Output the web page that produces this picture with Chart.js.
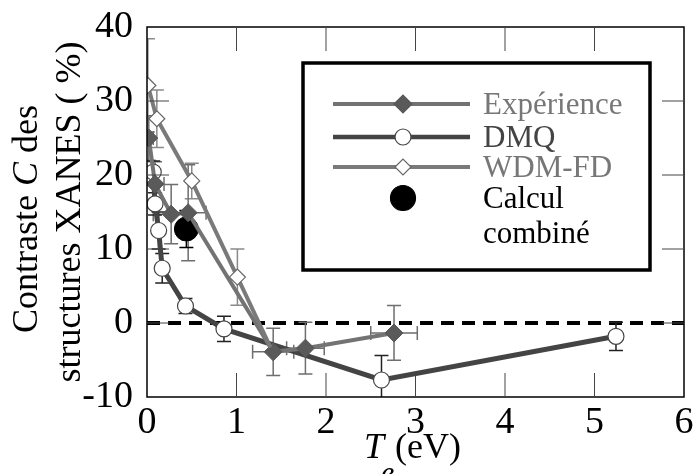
<!DOCTYPE html>
<html>
<head>
<meta charset="utf-8">
<script src="https://cdn.jsdelivr.net/npm/chart.js@4/dist/chart.umd.min.js"></script>
<style>
  html, body { margin: 0; padding: 0; background: #fff; }
</style>
</head>
<body>
<canvas id="chart" width="697" height="474"></canvas>
<script>
// 1. DATOS
const expX    = [0.02, 0.09, 0.27, 0.46, 1.41, 1.77, 2.76];
const expY    = [25.0, 18.8, 14.7, 14.9, -3.9, -3.4, -1.35];
const expYErr = [3.0, 3.0, 4.0, 6.5, 3.2, 3.5, 3.7];
const expXErr = [0.05, 0.10, 0.20, 0.20, 0.23, 0.21, 0.26];

const dmqX    = [0.07, 0.09, 0.13, 0.17, 0.43, 0.86, 2.62, 5.24];
const dmqY    = [20.4, 16.1, 12.5, 7.4, 2.3, -0.8, -7.7, -1.8];
const dmqYErr = [1.5, 1.5, 2.5, 2.0, 1.0, 1.7, 3.3, 1.9];

const wdmX    = [0.01, 0.11, 0.50, 1.01, 1.38];
const wdmY    = [32.1, 27.6, 19.2, 6.2, -3.3];
const wdmYErr = [6.3, 3.9, 2.4, 3.8, 0];

const combX    = [0.44];
const combY    = [12.7];
const combYErr = [2.5];

const xTicks = [0, 1, 2, 3, 4, 5, 6];
const yTicks = [-10, 0, 10, 20, 30, 40];

const legendLabels = ['Expérience', 'DMQ', 'WDM-FD', 'Calcul', 'combiné'];

const SERIF = '"Liberation Serif", "DejaVu Serif", serif';

function toPoints(xs, ys) {
    return xs.map((x, i) => ({ x: x, y: ys[i] }));
}

// 2. DIBUJO AUXILIAR (línea cero, barras de error, marco, leyenda, títulos)
function diamond(ctx, x, y, r, fill, stroke) {
    ctx.beginPath();
    ctx.moveTo(x - r, y); ctx.lineTo(x, y - r); ctx.lineTo(x + r, y); ctx.lineTo(x, y + r);
    ctx.closePath();
    ctx.fillStyle = fill; ctx.fill();
    ctx.lineWidth = 1.2; ctx.strokeStyle = stroke; ctx.stroke();
}
function circle(ctx, x, y, r, fill, stroke) {
    ctx.beginPath();
    ctx.arc(x, y, r, 0, Math.PI * 2);
    ctx.fillStyle = fill; ctx.fill();
    ctx.lineWidth = 1.2; ctx.strokeStyle = stroke; ctx.stroke();
}
function sampleLine(ctx, x0, x1, y, color, width) {
    ctx.lineWidth = width;
    ctx.strokeStyle = color;
    ctx.beginPath(); ctx.moveTo(x0, y); ctx.lineTo(x1, y); ctx.stroke();
}

function errorBars(chart, xs, ys, yErr, xErr, color) {
    const { ctx, scales: { x, y } } = chart;
    ctx.strokeStyle = color;
    ctx.lineWidth = 1.5;
    xs.forEach((v, i) => {
        const px = x.getPixelForValue(v);
        const py = y.getPixelForValue(ys[i]);
        if (yErr[i]) {
            const top = y.getPixelForValue(ys[i] + yErr[i]);
            const bot = y.getPixelForValue(ys[i] - yErr[i]);
            ctx.beginPath();
            ctx.moveTo(px, top); ctx.lineTo(px, bot);
            ctx.moveTo(px - 7, top); ctx.lineTo(px + 7, top);
            ctx.moveTo(px - 7, bot); ctx.lineTo(px + 7, bot);
            ctx.stroke();
        }
        if (xErr && xErr[i]) {
            const l = x.getPixelForValue(v - xErr[i]);
            const r = x.getPixelForValue(v + xErr[i]);
            ctx.beginPath();
            ctx.moveTo(l, py); ctx.lineTo(r, py);
            ctx.moveTo(l, py - 7); ctx.lineTo(l, py + 7);
            ctx.moveTo(r, py - 7); ctx.lineTo(r, py + 7);
            ctx.stroke();
        }
    });
}

const decor = {
    id: 'decor',
    beforeDatasetsDraw(chart) {
        const { ctx, chartArea: a, scales: { y } } = chart;
        ctx.save();
        ctx.beginPath();
        ctx.rect(a.left, a.top, a.right - a.left, a.bottom - a.top);
        ctx.clip();
        // línea de contraste nulo
        const y0 = y.getPixelForValue(0);
        ctx.strokeStyle = '#000';
        ctx.lineWidth = 4;
        ctx.setLineDash([13, 8]);
        ctx.beginPath(); ctx.moveTo(a.left, y0); ctx.lineTo(a.right, y0); ctx.stroke();
        ctx.setLineDash([]);
        // barras de error
        errorBars(chart, wdmX, wdmY, wdmYErr, null, '#8a8a8a');
        errorBars(chart, expX, expY, expYErr, expXErr, '#6e6e6e');
        errorBars(chart, dmqX, dmqY, dmqYErr, null, '#222');
        errorBars(chart, combX, combY, combYErr, null, '#000');
        ctx.restore();
    },
    afterDraw(chart) {
        const { ctx, chartArea: a, scales: { x, y } } = chart;
        ctx.save();
        // marco
        ctx.strokeStyle = '#000';
        ctx.lineWidth = 1.5;
        ctx.strokeRect(a.left, a.top, a.right - a.left, a.bottom - a.top);
        // marcas interiores
        ctx.strokeStyle = '#444';
        ctx.lineWidth = 1;
        ctx.beginPath();
        xTicks.slice(1, -1).forEach(v => {
            const px = x.getPixelForValue(v);
            ctx.moveTo(px, a.bottom); ctx.lineTo(px, a.bottom - 24);
            ctx.moveTo(px, a.top); ctx.lineTo(px, a.top + 24);
        });
        yTicks.slice(1, -1).forEach(v => {
            const py = y.getPixelForValue(v);
            ctx.moveTo(a.left, py); ctx.lineTo(a.left + 22, py);
            ctx.moveTo(a.right, py); ctx.lineTo(a.right - 22, py);
        });
        ctx.stroke();

        // leyenda
        ctx.strokeStyle = '#000';
        ctx.lineWidth = 3.5;
        ctx.strokeRect(303, 63, 347, 207);
        const rows = [104, 137, 167, 198];
        const lx0 = 333, lx1 = 470, mx = 403, tx = 483;
        sampleLine(ctx, lx0, lx1, rows[0], '#737373', 4);
        diamond(ctx, mx, rows[0], 9, '#5a5a5a', '#5a5a5a');
        sampleLine(ctx, lx0, lx1, rows[1], '#444', 4.5);
        circle(ctx, mx, rows[1], 8, '#fff', '#444');
        sampleLine(ctx, lx0, lx1, rows[2], '#7a7a7a', 4);
        diamond(ctx, mx, rows[2], 8, '#fff', '#666');
        circle(ctx, mx, rows[3], 12.5, '#000', '#000');

        ctx.font = '31px ' + SERIF;
        ctx.textAlign = 'left';
        ctx.textBaseline = 'alphabetic';
        ctx.fillStyle = '#777'; ctx.fillText(legendLabels[0], tx, 114);
        ctx.fillStyle = '#444'; ctx.fillText(legendLabels[1], tx, 147);
        ctx.fillStyle = '#777'; ctx.fillText(legendLabels[2], tx, 177);
        ctx.fillStyle = '#000'; ctx.fillText(legendLabels[3], tx, 208);
        ctx.fillText(legendLabels[4], tx, 243);

        // título eje Y (dos líneas, C en cursiva)
        ctx.fillStyle = '#000';
        ctx.save();
        ctx.translate(37, 219);
        ctx.rotate(-Math.PI / 2);
        const up = '36px ' + SERIF, it = 'italic 36px ' + SERIF;
        const parts = [['Contraste ', up], ['C', it], [' des', up]];
        let w = 0;
        parts.forEach(p => { ctx.font = p[1]; w += ctx.measureText(p[0]).width; });
        let cx = -w / 2;
        parts.forEach(p => { ctx.font = p[1]; ctx.fillText(p[0], cx, 0); cx += ctx.measureText(p[0]).width; });
        ctx.restore();
        ctx.save();
        ctx.translate(80, 212);
        ctx.rotate(-Math.PI / 2);
        ctx.font = up;
        ctx.textAlign = 'center';
        ctx.fillText('structures XANES ( %)', 0, 0);
        ctx.restore();

        // título eje X
        ctx.font = 'italic 36px ' + SERIF;
        ctx.textAlign = 'left';
        ctx.fillText('T', 364, 458);
        ctx.font = 'italic 30px ' + SERIF;
        ctx.fillText('e', 381, 482);
        ctx.font = '36px ' + SERIF;
        ctx.fillText('(eV)', 395, 458);
        ctx.restore();
    }
};

// 3. GRÁFICO
const ctx = document.getElementById('chart').getContext('2d');
const chart = new Chart(ctx, {
    type: 'scatter',
    data: {
        datasets: [
            {
                label: 'WDM-FD',
                data: toPoints(wdmX, wdmY),
                showLine: true,
                borderColor: '#7a7a7a',
                borderWidth: 4,
                pointStyle: 'rectRot',
                pointRadius: [8, 8, 8, 8, 0],
                pointBackgroundColor: '#fff',
                pointBorderColor: '#666',
                pointBorderWidth: 1.2
            },
            {
                label: 'Expérience',
                data: toPoints(expX, expY),
                showLine: true,
                borderColor: '#737373',
                borderWidth: 4,
                pointStyle: 'rectRot',
                pointRadius: 9,
                pointBackgroundColor: '#5a5a5a',
                pointBorderColor: '#5a5a5a',
                pointBorderWidth: 1
            },
            {
                label: 'DMQ',
                data: toPoints(dmqX, dmqY),
                showLine: true,
                borderColor: '#444',
                borderWidth: 5,
                pointStyle: 'circle',
                pointRadius: 8,
                pointBackgroundColor: '#fff',
                pointBorderColor: '#444',
                pointBorderWidth: 1.2
            },
            {
                label: 'Calcul combiné',
                data: toPoints(combX, combY),
                showLine: false,
                pointStyle: 'circle',
                pointRadius: 12,
                pointBackgroundColor: '#000',
                pointBorderColor: '#000'
            }
        ]
    },
    options: {
        responsive: false,
        animation: false,
        layout: { padding: { top: 27, right: 9, left: 0, bottom: 0 } },
        plugins: { legend: { display: false }, tooltip: { enabled: false } },
        scales: {
            x: {
                type: 'linear',
                min: 0, max: 6,
                afterBuildTicks: s => { s.ticks = xTicks.map(v => ({ value: v })); },
                grid: { display: false, drawTicks: false },
                border: { display: false },
                ticks: { color: '#000', padding: 3, font: { family: SERIF, size: 38 } },
                afterFit: s => { s.height = 77; s.paddingLeft = 0; s.paddingRight = 0; }
            },
            y: {
                type: 'linear',
                min: -10, max: 40,
                afterBuildTicks: s => { s.ticks = yTicks.map(v => ({ value: v })); },
                grid: { display: false, drawTicks: false },
                border: { display: false },
                ticks: { color: '#000', padding: 14, font: { family: SERIF, size: 38 } },
                afterFit: s => { s.width = 147; s.paddingTop = 0; s.paddingBottom = 0; }
            }
        }
    },
    plugins: [decor]
});
</script>
</body>
</html>
